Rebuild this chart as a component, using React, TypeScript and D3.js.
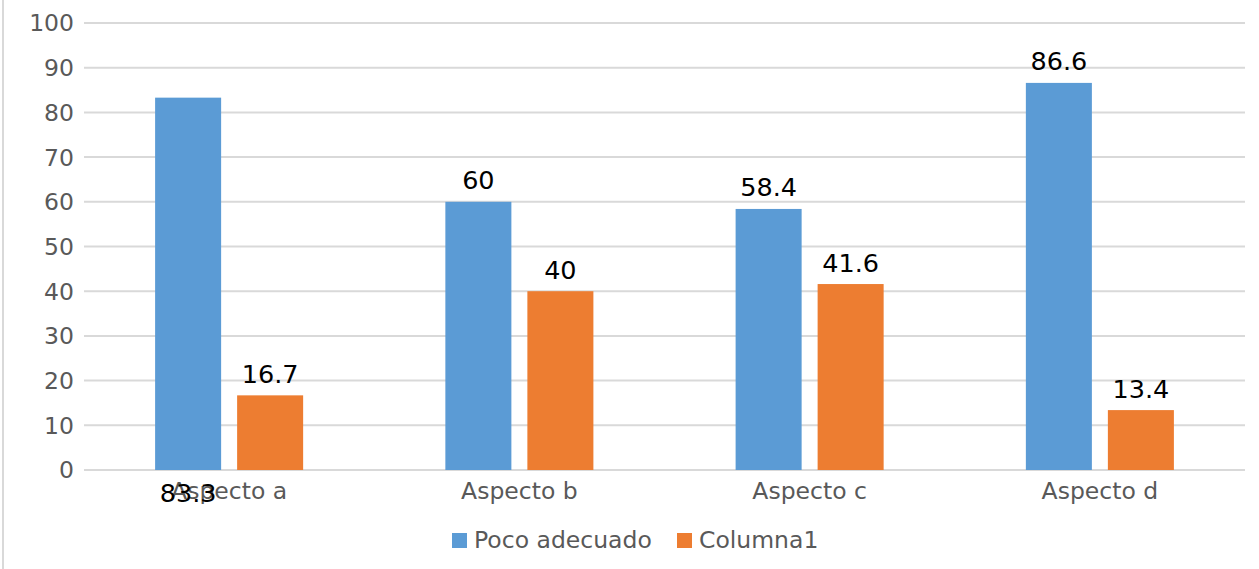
import * as d3 from 'd3';

const categories = ['Aspecto a', 'Aspecto b', 'Aspecto c', 'Aspecto d'];
const seriesNames = ['Poco adecuado', 'Columna1'];
const pocoAdecuado = [83.3, 60, 58.4, 86.6];
const columna1 = [16.7, 40, 41.6, 13.4];
const yTicks = [0, 10, 20, 30, 40, 50, 60, 70, 80, 90, 100];

const colors = ['#5B9BD5', '#ED7D31'];
const width = 1259;
const height = 569;
const margin = { top: 23, right: 14, bottom: 99, left: 84 };
const font = '"DejaVu Sans", sans-serif';

export default function App() {
  const series = [pocoAdecuado, columna1];

  const x = d3.scaleBand<string>()
    .domain(categories)
    .range([margin.left, width - margin.right])
    .paddingInner(0.49)
    .paddingOuter(0.245);

  const x1 = d3.scaleBand<number>()
    .domain([0, 1])
    .range([0, x.bandwidth()])
    .paddingInner(0.195);

  const y = d3.scaleLinear()
    .domain([0, 100])
    .range([height - margin.bottom, margin.top]);

  const y0 = y(0);

  return (
    <div style={{ position: 'absolute', left: 0, top: 0 }}>
      <svg width={width} height={height} style={{ display: 'block', background: '#fff' }}>
        {/* chart border, only left edge visible */}
        <line x1={3} x2={3} y1={0} y2={height} stroke="#D9D9D9" strokeWidth={2} />

        {yTicks.map(t => (
          <g key={t}>
            <line
              x1={margin.left}
              x2={width - margin.right}
              y1={y(t)}
              y2={y(t)}
              stroke="#D9D9D9"
              strokeWidth={2}
            />
            <text
              x={74}
              y={y(t)}
              dy="0.36em"
              textAnchor="end"
              fontFamily={font}
              fontSize={23.5}
              fill="#595959"
            >
              {t}
            </text>
          </g>
        ))}

        {series.map((vals, si) =>
          vals.map((v, ci) => {
            const bx = (x(categories[ci]) ?? 0) + (x1(si) ?? 0);
            return (
              <rect
                key={`${si}-${ci}`}
                x={bx}
                y={y(v)}
                width={x1.bandwidth()}
                height={y0 - y(v)}
                fill={colors[si]}
              />
            );
          })
        )}

        {categories.map(c => (
          <text
            key={c}
            x={(x(c) ?? 0) + x.bandwidth() / 2}
            y={y0 + 29}
            textAnchor="middle"
            fontFamily={font}
            fontSize={23.5}
            fill="#595959"
          >
            {c}
          </text>
        ))}

        {series.map((vals, si) =>
          vals.map((v, ci) => {
            const cx = (x(categories[ci]) ?? 0) + (x1(si) ?? 0) + x1.bandwidth() / 2;
            // the first label of the report sits below the axis
            const misplaced = si === 0 && ci === 0;
            return (
              <text
                key={`l-${si}-${ci}`}
                x={cx}
                y={misplaced ? y0 + 32 : y(v) - 12.5}
                textAnchor="middle"
                fontFamily={font}
                fontSize={25.5}
                fill="#000"
              >
                {v}
              </text>
            );
          })
        )}

        {/* legend */}
        <rect x={452} y={533} width={15} height={15} fill={colors[0]} />
        <text x={474} y={548} fontFamily={font} fontSize={23.5} fill="#595959">
          {seriesNames[0]}
        </text>
        <rect x={677} y={533} width={15} height={15} fill={colors[1]} />
        <text x={699} y={548} fontFamily={font} fontSize={23.5} fill="#595959">
          {seriesNames[1]}
        </text>
      </svg>
    </div>
  );
}
